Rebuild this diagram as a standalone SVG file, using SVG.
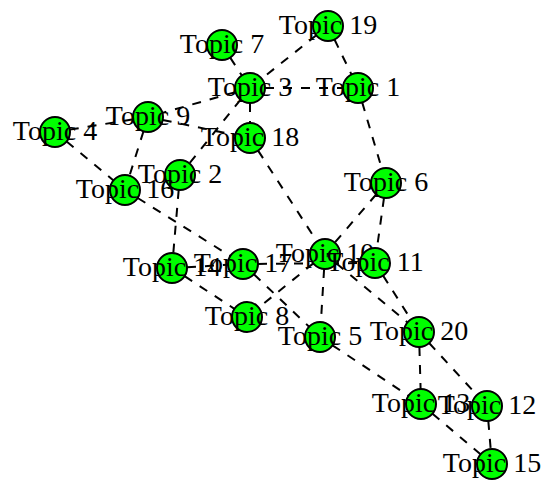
<svg xmlns="http://www.w3.org/2000/svg" width="547" height="482" viewBox="0 0 547 482">
<style>
.e{stroke:#000;stroke-width:2;stroke-dasharray:9 9;fill:none}
.n circle{fill:#00FF00;stroke:#000;stroke-width:2}
.n text{font-family:"Liberation Serif","Times New Roman",serif;font-size:28px;fill:#000;text-anchor:middle}
</style>
<rect width="547" height="482" fill="#fff"/>
<g id="edges">
<line class="e" x1="230.2" y1="57.6" x2="241.8" y2="75.4"/>
<line class="e" x1="316.3" y1="35.3" x2="261.7" y2="78.7"/>
<line class="e" x1="334.5" y1="39.5" x2="351.5" y2="74.5"/>
<line class="e" x1="265" y1="88" x2="343" y2="88"/>
<line class="e" x1="235.6" y1="92.1" x2="162.4" y2="112.9"/>
<line class="e" x1="250" y1="103" x2="250" y2="123"/>
<line class="e" x1="240.6" y1="99.7" x2="189.4" y2="163.3"/>
<line class="e" x1="162.7" y1="120" x2="235.3" y2="135"/>
<line class="e" x1="69.8" y1="129.6" x2="133.2" y2="119.4"/>
<line class="e" x1="66.6" y1="141.6" x2="113.5" y2="180.4"/>
<line class="e" x1="143.5" y1="131.3" x2="129.5" y2="175.7"/>
<line class="e" x1="137.7" y1="198" x2="230.3" y2="256"/>
<line class="e" x1="178.7" y1="189.9" x2="173.3" y2="253.1"/>
<line class="e" x1="258.1" y1="150.6" x2="316.9" y2="241.4"/>
<line class="e" x1="362.2" y1="102.4" x2="381.8" y2="168.6"/>
<line class="e" x1="376.2" y1="194.4" x2="334.8" y2="242.6"/>
<line class="e" x1="384" y1="197.9" x2="377" y2="248.1"/>
<line class="e" x1="187" y1="267.2" x2="228" y2="264.8"/>
<line class="e" x1="258" y1="263.9" x2="360" y2="263.1"/>
<line class="e" x1="184.6" y1="276.2" x2="234.4" y2="308.8"/>
<line class="e" x1="253.9" y1="274.3" x2="309.1" y2="326.7"/>
<line class="e" x1="313.3" y1="263.4" x2="258.7" y2="307.6"/>
<line class="e" x1="324.1" y1="269" x2="320.9" y2="322"/>
<line class="e" x1="336.5" y1="263.6" x2="407.5" y2="322.4"/>
<line class="e" x1="383.1" y1="275.6" x2="410.9" y2="319.4"/>
<line class="e" x1="332.5" y1="345.3" x2="408.5" y2="395.7"/>
<line class="e" x1="419.4" y1="347" x2="420.6" y2="389"/>
<line class="e" x1="429.1" y1="343" x2="476.9" y2="395"/>
<line class="e" x1="432.5" y1="413.7" x2="480.5" y2="454.3"/>
<line class="e" x1="488.3" y1="420.9" x2="490.7" y2="449.1"/>
</g>
<g id="n1" class="n"><circle cx="358" cy="88" r="15"/><text x="358" y="96">Topic 1</text></g>
<g id="n2" class="n"><circle cx="180" cy="175" r="15"/><text x="180" y="183">Topic 2</text></g>
<g id="n3" class="n"><circle cx="250" cy="88" r="15"/><text x="250" y="96">Topic 3</text></g>
<g id="n4" class="n"><circle cx="55" cy="132" r="15"/><text x="55" y="140">Topic 4</text></g>
<g id="n5" class="n"><circle cx="320" cy="337" r="15"/><text x="320" y="345">Topic 5</text></g>
<g id="n6" class="n"><circle cx="386" cy="183" r="15"/><text x="386" y="191">Topic 6</text></g>
<g id="n7" class="n"><circle cx="222" cy="45" r="15"/><text x="222" y="53">Topic 7</text></g>
<g id="n8" class="n"><circle cx="247" cy="317" r="15"/><text x="247" y="325">Topic 8</text></g>
<g id="n9" class="n"><circle cx="148" cy="117" r="15"/><text x="148" y="125">Topic 9</text></g>
<g id="n10" class="n"><circle cx="325" cy="254" r="15"/><text x="325" y="262">Topic 10</text></g>
<g id="n11" class="n"><circle cx="375" cy="263" r="15"/><text x="375" y="271">Topic 11</text></g>
<g id="n12" class="n"><circle cx="487" cy="406" r="15"/><text x="487" y="414">Topic 12</text></g>
<g id="n13" class="n"><circle cx="421" cy="404" r="15"/><text x="421" y="412">Topic 13</text></g>
<g id="n14" class="n"><circle cx="172" cy="268" r="15"/><text x="172" y="276">Topic 14</text></g>
<g id="n15" class="n"><circle cx="492" cy="464" r="15"/><text x="492" y="472">Topic 15</text></g>
<g id="n16" class="n"><circle cx="125" cy="190" r="15"/><text x="125" y="198">Topic 16</text></g>
<g id="n17" class="n"><circle cx="243" cy="264" r="15"/><text x="243" y="272">Topic 17</text></g>
<g id="n18" class="n"><circle cx="250" cy="138" r="15"/><text x="250" y="146">Topic 18</text></g>
<g id="n19" class="n"><circle cx="328" cy="26" r="15"/><text x="328" y="34">Topic 19</text></g>
<g id="n20" class="n"><circle cx="419" cy="332" r="15"/><text x="419" y="340">Topic 20</text></g>
</svg>
